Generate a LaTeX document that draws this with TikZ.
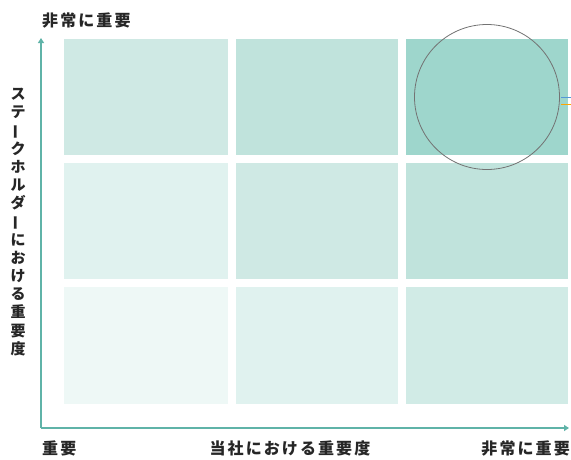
\documentclass[tikz,border=0pt]{standalone}
\usepackage{fontspec}
\usepackage{graphicx}
\newfontfamily\cjk{Noto Sans CJK JP}[LetterSpace=13]
\usetikzlibrary{arrows.meta}
\definecolor{axisc}{HTML}{5FB3A8}
\definecolor{cA}{HTML}{9ED6CC}
\definecolor{cB}{HTML}{C0E3DC}
\definecolor{cC}{HTML}{CFE9E4}
\definecolor{cD}{HTML}{E0F2EF}
\definecolor{cE}{HTML}{EEF8F6}
\definecolor{cF}{HTML}{D1EBE6}
\tikzset{
  lbl/.style={font=\cjk\bfseries\fontsize{16}{18}\selectfont, text=black!85, inner sep=0pt},
  axis/.style={draw=axisc, line width=1.4pt, -{Triangle[length=5pt,width=6pt]}}
}
\begin{document}
\begin{tikzpicture}[x=1pt,y=-1pt]
\useasboundingbox (0,0) rectangle (571,459);
% cells
\fill[cC] (64,39) rectangle (228,155);
\fill[cB] (236,39) rectangle (398,155);
\fill[cA] (406,39) rectangle (568,155);
\fill[cD] (64,163) rectangle (228,279);
\fill[cC] (236,163) rectangle (398,279);
\fill[cB] (406,163) rectangle (568,279);
\fill[cE] (64,287) rectangle (228,404);
\fill[cD] (236,287) rectangle (398,404);
\fill[cF] (406,287) rectangle (568,404);
% circle
\node[circle, draw=black!55, line width=0.8pt, minimum size=145pt, inner sep=0pt] (circ) at (487,97) {};
\coordinate (m1a) at (561,97); \coordinate (m1b) at (571,97);
\coordinate (m2a) at (561,104); \coordinate (m2b) at (571,104);
\draw[color=cyan!60!blue!70, line width=1pt] (m1a) -- (m1b);
\draw[color=orange!70!yellow, line width=1pt] (m2a) -- (m2b);
% axes
\coordinate (o) at (41,428);
\coordinate (ytop) at (41,38);
\coordinate (xend) at (569,428);
\draw[axis] (o) -- (ytop);
\draw[axis] (o) -- (xend);
% labels
\node[lbl, anchor=west] (ttop) at (42,21) {非常に重要};
\node[lbl, anchor=west] (bl) at (42,448) {重要};
\node[lbl] (bm) at (290,448) {当社における重要度};
\node[lbl, anchor=east] (br) at (570,448) {非常に重要};
\node[lbl, align=center, font=\cjk\bfseries\fontsize{15}{18.2}\selectfont] (yl) at (18,222)
 {ス\\テ\\\rotatebox[origin=c]{90}{ー}\\ク\\ホ\\ル\\ダ\\\rotatebox[origin=c]{90}{ー}\\に\\お\\け\\る\\重\\要\\度};
\end{tikzpicture}
\end{document}
